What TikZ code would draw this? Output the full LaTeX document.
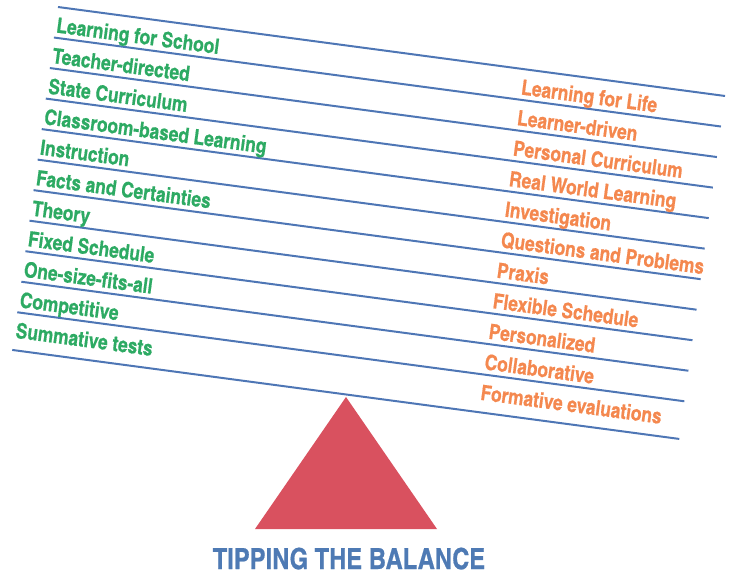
\documentclass[tikz,border=0pt]{standalone}
\usepackage{fontspec}
\newfontfamily\cond{texgyreheroscn-bold.otf}[FakeBold=0.6]
\definecolor{lgreen}{HTML}{2DAA63}
\definecolor{lorange}{HTML}{F4884F}
\definecolor{lblue}{HTML}{4E76B5}
\definecolor{tblue}{HTML}{4E7AB4}
\definecolor{lred}{HTML}{D9515F}
\begin{document}
\begin{tikzpicture}[x=1pt,y=1pt,
  rule/.style={draw=lblue,line width=2pt},
  lefttxt/.style={anchor=base west,inner sep=0pt,text=lgreen,font=\cond\fontsize{21.2}{21.2}\selectfont},
  righttxt/.style={anchor=base west,inner sep=0pt,text=lorange,font=\cond\fontsize{21.2}{21.2}\selectfont},
  titletxt/.style={anchor=base,inner sep=0pt,text=tblue,font=\cond\fontsize{29}{29}\selectfont}]
\useasboundingbox (0,0) rectangle (732,574);
\begin{scope}[shift={(58,567)},rotate=-7.6,transform shape]
  \foreach \k in {0,...,10}{
    \draw[rule] (0,-30.8*\k) -- (673,-30.8*\k);
  }
  \draw[rule] (0,-346) -- (673,-346);
  \foreach [count=\i from 0] \t in {Learning for School,Teacher-directed,State Curriculum,Classroom-based Learning,Instruction,Facts and Certainties,Theory,Fixed Schedule,One-size-fits-all,Competitive,Summative tests}{
    \node[lefttxt] (l\i) at (1,-25.5-30.8*\i) {\t};
  }
  \foreach [count=\i from 0] \t in {Learning for Life,Learner-driven,Personal Curriculum,Real World Learning,Investigation,Questions and Problems,Praxis,Flexible Schedule,Personalized,Collaborative,Formative evaluations}{
    \node[righttxt] (r\i) at (470,-25.5-30.8*\i) {\t};
  }
\end{scope}
\fill[lred] (346,177) -- (437,45) -- (255,45) -- cycle;
\node[titletxt] (title) at (349,5) {TIPPING THE BALANCE};
\end{tikzpicture}
\end{document}
